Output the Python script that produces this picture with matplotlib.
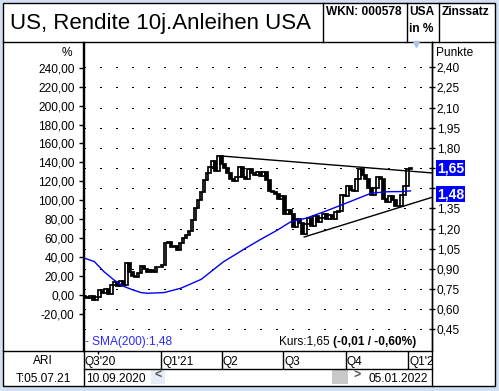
import numpy as np
import pandas as pd
import matplotlib
matplotlib.use("Agg")
import matplotlib.pyplot as plt
from matplotlib.lines import Line2D
from matplotlib.patches import Rectangle
from matplotlib.ticker import FuncFormatter

plt.rcParams['font.family'] = ['Liberation Sans', 'DejaVu Sans']

# --- data (US 10y yield, points) ---
first_date = "2020-09-10"
last_date = "2022-01-05"
first_open = 0.70
closes = [0.69, 0.68, 0.70, 0.67, 0.69, 0.74, 0.72, 0.75, 0.71, 0.78,
          0.80, 0.77, 0.81, 0.78, 0.94, 0.88, 0.85, 0.84, 0.87, 0.92,
          0.90, 0.88, 0.89, 0.88, 0.91, 0.91, 0.93, 1.09, 1.10, 1.06,
          1.07, 1.04, 1.09, 1.13, 1.15, 1.18, 1.26, 1.35, 1.41, 1.47,
          1.56, 1.61, 1.66, 1.70, 1.63, 1.74, 1.68, 1.65, 1.61, 1.57,
          1.55, 1.58, 1.66, 1.58, 1.57, 1.64, 1.61, 1.60, 1.62, 1.59,
          1.62, 1.56, 1.48, 1.47, 1.46, 1.42, 1.44, 1.31, 1.34, 1.31,
          1.21, 1.27, 1.24, 1.16, 1.23, 1.28, 1.22, 1.29, 1.25, 1.28,
          1.31, 1.27, 1.30, 1.27, 1.32, 1.33, 1.45, 1.44, 1.52, 1.49,
          1.48, 1.57, 1.64, 1.60, 1.57, 1.50, 1.45, 1.50, 1.58, 1.57,
          1.42, 1.40, 1.44, 1.41, 1.37, 1.37, 1.45, 1.52, 1.64, 1.65]

sma_dates = ["2020-09-10", "2020-09-25", "2020-10-09", "2020-10-24", "2020-11-08",
             "2020-11-21", "2020-12-03", "2020-12-13", "2021-01-06", "2021-01-31",
             "2021-03-02", "2021-04-03", "2021-05-07", "2021-05-29", "2021-06-23",
             "2021-07-12", "2021-08-04", "2021-08-31", "2021-09-25", "2021-10-20",
             "2021-11-08", "2021-12-03", "2021-12-22", "2022-01-05"]
sma_values = [0.98, 0.954, 0.88, 0.817, 0.768, 0.743, 0.723, 0.718, 0.723, 0.756,
              0.822, 0.95, 1.055, 1.12, 1.19, 1.25, 1.277, 1.326, 1.375, 1.425,
              1.463, 1.474, 1.475, 1.48]

upper_trend_dates = ["2021-03-31", "2022-02-05"]
upper_trend_values = [1.74, 1.614]
lower_trend_dates = ["2021-08-01", "2022-02-05"]
lower_trend_values = [1.137, 1.431]

base_price = 0.705          # 0 % reference
last_price = 1.65
last_sma = 1.48
price_ticks = np.arange(0.45, 2.41, 0.15)
pct_ticks = np.arange(-20, 241, 20)
quarter_labels = ["Q3'20", "Q1'21", "Q2", "Q3", "Q4", "Q1'22"]

W, H = 499, 391


def fx(x):
    return x / W


def fy(y):
    return 1 - y / H


def comma(v, nd):
    return f"{v:.{nd}f}".replace(".", ",")


fig = plt.figure(figsize=(W / 100, H / 100), dpi=100, facecolor="#d3e0f2")
fig.add_artist(Rectangle((fx(2.5), fy(385.5)), 492 / W, 383 / H, transform=fig.transFigure,
                         facecolor="white", edgecolor="black", lw=1, zorder=-5))


def fline(xs, ys, **kw):
    fig.add_artist(Line2D([fx(x) for x in xs], [fy(y) for y in ys], color="black", lw=1, **kw))


# frame / table lines
fline([2.5, 494.5], [41.5, 41.5])
for xv in [322.5, 406.5, 438.5]:
    fline([xv, xv], [2.5, 41.5])
fline([83.5, 83.5], [41.5, 385.5])
fline([431.5, 431.5], [41.5, 385.5])
fline([2.5, 431.5], [350.5, 350.5])
fline([83.5, 431.5], [368.5, 368.5])

# header
fig.text(fx(10), fy(29.3), "US, Rendite 10j.Anleihen USA", fontsize=16, va="baseline")
fig.text(fx(326), fy(15), "WKN: 000578", fontsize=8.6, fontweight="bold", va="baseline")
fig.text(fx(409), fy(15), "USA", fontsize=8.6, fontweight="bold", va="baseline")
fig.text(fx(409), fy(31.7), "in %", fontsize=8.6, fontweight="bold", va="baseline")
fig.text(fx(442), fy(15), "Zinssatz", fontsize=8.6, fontweight="bold", va="baseline")
fig.add_artist(Line2D([fx(416)], [fy(44)], marker="v", markersize=4, color="#a9c3e6", lw=0))

# main chart
xmin, xmax = pd.Timestamp("2020-09-09"), pd.Timestamp("2022-02-05")
ax = fig.add_axes([fx(83.5), fy(350.5), 348 / W, 309 / H], facecolor="none")
ax.set_xlim(xmin, xmax)
ax.set_ylim(0.292, 2.592)

dates = pd.date_range(first_date, last_date, periods=len(closes))
closes = np.array(closes)
opens = np.concatenate([[first_open], closes[:-1]])
fills = ["white" if c >= o else "black" for o, c in zip(opens, closes)]
ax.bar(dates, closes - opens, bottom=opens, width=4.2, color=fills,
       edgecolor="black", linewidth=1.25, zorder=2)

ax.plot(pd.to_datetime(sma_dates), sma_values, color="#0000f0", lw=1, zorder=3)
ax.plot(pd.to_datetime(upper_trend_dates), upper_trend_values, color="black", lw=1, zorder=3)
ax.plot(pd.to_datetime(lower_trend_dates), lower_trend_values, color="black", lw=1, zorder=3)

# right axis (points); labels hidden behind the value boxes are left blank
hidden = [round(last_price, 2), 1.50]
ax.yaxis.tick_right()
ax.set_yticks(price_ticks)
ax.yaxis.set_major_formatter(
    FuncFormatter(lambda v, _: "" if round(v, 2) in hidden else comma(v, 2)))
ax.tick_params(axis="y", direction="inout", length=4, width=1, pad=1.8, labelsize=8.6)
ax.set_xticks([])
for s in ["top", "bottom", "left"]:
    ax.spines[s].set_visible(False)
ax.spines["right"].set_linewidth(1)
ax.grid(axis="y", color="black", linewidth=1, linestyle=(0, (0.75, 10.6)))
for gl in ax.get_ygridlines():
    gl.set_antialiased(False)

# left axis (percent)
sec = ax.secondary_yaxis("left", functions=(lambda v: (v / base_price - 1) * 100,
                                            lambda p: base_price * (1 + p / 100)))
sec.set_yticks(pct_ticks)
sec.yaxis.set_major_formatter(FuncFormatter(lambda p, _: comma(p, 2)))
sec.tick_params(direction="out", length=3, width=1, pad=3.5, labelsize=8.6)
sec.spines["left"].set_linewidth(1)

fig.text(fx(72), fy(56), "%", fontsize=8.6, ha="right", va="baseline")
fig.text(fx(436), fy(55.5), "Punkte", fontsize=8.6, va="baseline")

# value boxes on right scale
for val, ypos in [(last_price, last_price), (last_sma, last_sma - 0.025)]:
    ax.annotate(comma(val, 2), xy=(1, ypos), xycoords=ax.get_yaxis_transform(),
                xytext=(5.5, 0), textcoords="offset pixels", va="center", ha="left",
                fontsize=10, fontweight="bold", color="white", zorder=6,
                bbox=dict(boxstyle="square,pad=0.07", fc="#0000ff", ec="none"),
                annotation_clip=False)

# info line
fig.text(fx(85), fy(345), "- SMA(200):" + comma(last_sma, 2), fontsize=8.6,
         color="#2a2aff", va="baseline")
t1 = fig.text(fx(279), fy(345), "Kurs:" + comma(last_price, 2) + " ", fontsize=8.6, va="baseline")
ax.annotate("(-0,01 / -0,60%)", xy=(1, 0), xycoords=t1, va="bottom", ha="left",
            fontsize=8.6, fontweight="bold", annotation_clip=False)

# quarter strip
axq = fig.add_axes([fx(83.5), fy(368.5), 348 / W, 18 / H], facecolor="none")
axq.set_xlim(xmin, xmax)
axq.set_ylim(0, 1)
axq.axis("off")
qstarts = pd.date_range("2020-10-01", "2022-01-01", freq="QS")
axq.vlines(qstarts[0], 0.78, 1, color="black", lw=1)
axq.vlines(qstarts[1:], 0, 1, color="black", lw=1)
axq.text(xmin + pd.Timedelta(days=2), 0.22, quarter_labels[0], fontsize=8.6, va="baseline")
for q, lab in zip(qstarts[1:], quarter_labels[1:]):
    axq.text(q + pd.Timedelta(days=2), 0.22, lab, fontsize=8.6, va="baseline", clip_on=True)

# scroll bar row
fig.text(fx(86), fy(381.5), "10.09.2020", fontsize=8.6, va="baseline")
fig.text(fx(428), fy(381.5), "05.01.2022", fontsize=8.6, va="baseline", ha="right")
fig.add_artist(Rectangle((fx(151), fy(384)), 14 / W, 14 / H, transform=fig.transFigure,
                         facecolor="#e6edf7", edgecolor="none"))
fig.add_artist(Rectangle((fx(332), fy(384)), 16 / W, 14 / H, transform=fig.transFigure,
                         facecolor="#c8c8c8", edgecolor="none"))
fig.text(fx(158), fy(376), "<", fontsize=9, fontweight="bold", color="#555555", ha="center", va="center")
fig.text(fx(357), fy(376), ">", fontsize=9, fontweight="bold", color="#555555", ha="center", va="center")

# left column
fig.text(fx(43), fy(364.3), "ARI", fontsize=8.6, ha="center", va="baseline")
fig.text(fx(43), fy(382.3), "T:05.07.21", fontsize=8.6, ha="center", va="baseline")

fig.savefig("out.png", dpi=100, facecolor=fig.get_facecolor())
